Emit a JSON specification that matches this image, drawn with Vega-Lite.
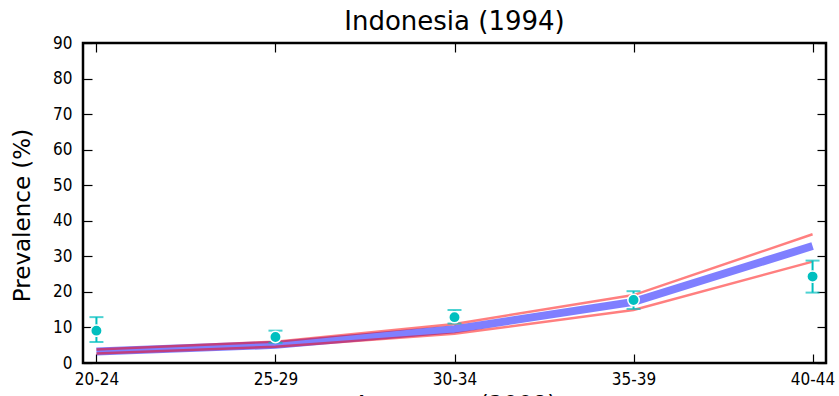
{
  "$schema": "https://vega.github.io/schema/vega-lite/v6.json",
  "width": 743,
  "height": 320,
  "autosize": {"type": "none"},
  "padding": {"left": 83, "top": 43, "right": 13, "bottom": 33},
  "background": "white",
  "config": {
    "font": "DejaVu Sans",
    "view": {"stroke": "black", "strokeWidth": 2.5},
    "axis": {"grid": false, "domain": false, "tickColor": "black", "tickWidth": 1.2, "tickSize": 9, "offset": -9, "labelColor": "black", "titleColor": "black", "titleFontWeight": "normal", "labelFont": "DejaVu Sans Condensed", "titleFont": "DejaVu Sans"}
  },
  "title": {"text": "Indonesia (1994)", "fontSize": 26, "fontWeight": "normal", "font": "DejaVu Sans", "color": "black", "offset": -1, "anchor": "middle"},
  "resolve": {"axis": {"x": "independent", "y": "independent"}},
  "data": {"values": [
    {"age": "20-24", "obs": 9.1, "lo": 5.9, "hi": 12.9, "model": 3.2, "upper": 3.8, "lower": 2.7},
    {"age": "25-29", "obs": 7.3, "lo": 5.7, "hi": 9.1, "model": 5.1, "upper": 6.0, "lower": 4.6},
    {"age": "30-34", "obs": 12.9, "lo": 11.1, "hi": 14.9, "model": 9.5, "upper": 11.0, "lower": 8.2},
    {"age": "35-39", "obs": 17.7, "lo": 15.2, "hi": 20.2, "model": 17.2, "upper": 19.1, "lower": 14.9},
    {"age": "40-44", "obs": 24.3, "lo": 19.8, "hi": 28.8, "model": 32.9, "upper": 36.2, "lower": 28.5}
  ]},
  "layer": [
    {
      "mark": {"type": "line", "stroke": "blue", "strokeOpacity": 0.5, "strokeWidth": 8},
      "encoding": {
        "x": {"field": "age", "type": "ordinal", "scale": {"type": "point", "padding": 0.075},
          "axis": {"orient": "bottom", "labelAngle": 0, "labelPadding": 8, "labelFontSize": 17, "title": "Age group (2008)", "titleFontSize": 23, "titlePadding": 6}},
        "y": {"field": "model", "type": "quantitative", "scale": {"domain": [0, 90], "nice": false},
          "axis": {"orient": "left", "values": [0, 10, 20, 30, 40, 50, 60, 70, 80, 90], "labelPadding": 11, "labelFontSize": 17, "title": "Prevalence (%)", "titleFontSize": 23, "titleX": -58, "titleY": 172}}
      }
    },
    {
      "mark": {"type": "line", "stroke": "red", "strokeOpacity": 0.5, "strokeWidth": 2.5},
      "encoding": {
        "x": {"field": "age", "type": "ordinal", "axis": null},
        "y": {"field": "upper", "type": "quantitative", "axis": null}
      }
    },
    {
      "mark": {"type": "line", "stroke": "red", "strokeOpacity": 0.5, "strokeWidth": 2.5},
      "encoding": {
        "x": {"field": "age", "type": "ordinal", "axis": null},
        "y": {"field": "lower", "type": "quantitative", "axis": null}
      }
    },
    {
      "mark": {"type": "rule", "color": "#00BFBF", "strokeWidth": 2},
      "encoding": {
        "x": {"field": "age", "type": "ordinal", "axis": null},
        "y": {"field": "lo", "type": "quantitative", "axis": null},
        "y2": {"field": "hi"}
      }
    },
    {
      "mark": {"type": "tick", "color": "#00BFBF", "size": 14, "thickness": 2, "orient": "horizontal"},
      "encoding": {
        "x": {"field": "age", "type": "ordinal", "axis": null},
        "y": {"field": "lo", "type": "quantitative", "axis": null}
      }
    },
    {
      "mark": {"type": "tick", "color": "#00BFBF", "size": 14, "thickness": 2, "orient": "horizontal"},
      "encoding": {
        "x": {"field": "age", "type": "ordinal", "axis": null},
        "y": {"field": "hi", "type": "quantitative", "axis": null}
      }
    },
    {
      "mark": {"type": "point", "shape": "circle", "filled": true, "fill": "#00BFBF", "fillOpacity": 1, "stroke": "white", "strokeWidth": 1.5, "size": 130},
      "encoding": {
        "x": {"field": "age", "type": "ordinal", "axis": {"orient": "top", "labels": false, "title": null}},
        "y": {"field": "obs", "type": "quantitative", "axis": {"orient": "right", "values": [0, 10, 20, 30, 40, 50, 60, 70, 80, 90], "labels": false, "title": null}}
      }
    }
  ]
}
